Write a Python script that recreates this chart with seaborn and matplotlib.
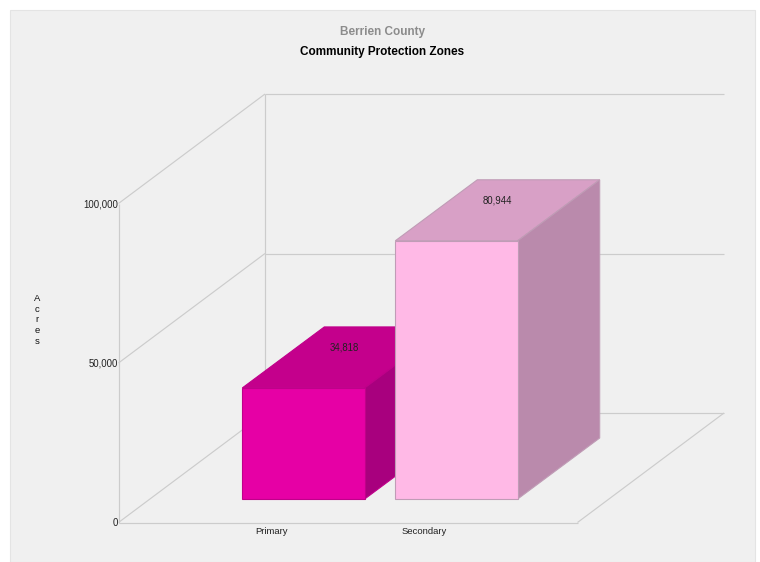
import matplotlib
matplotlib.use("Agg")
import matplotlib.pyplot as plt
import pandas as pd
import seaborn as sns
from matplotlib.patches import Polygon, Rectangle

# --- data ---
categories = ["Primary", "Secondary"]
acres = [34818, 80944]
value_labels = ["34,818", "80,944"]
y_ticks = [0, 50000, 100000]
y_tick_labels = ["0", "50,000", "100,000"]
front_colors = ["#E600A5", "#FFB9E6"]
top_colors = ["#C4008C", "#D8A0C6"]
side_colors = ["#A8007E", "#BA8AAC"]
edge_colors = ["#C0008A", "#C09CB6"]

sns.set_theme(style="white")
plt.rcParams["font.family"] = ["Liberation Sans", "DejaVu Sans"]

W, H = 760, 562
fig = plt.figure(figsize=(W / 100, H / 100), dpi=100, facecolor="white")
fig.patches.append(Rectangle((9.5 / W, 0), 745.5 / W, 552.5 / H, transform=fig.transFigure,
                             facecolor="#F0F0F0", edgecolor="#E4E4E4", lw=0.8, zorder=-5))


def px_axes(left, bottom_y, width, height):
    a = fig.add_axes([left / W, (H - bottom_y) / H, width / W, height / H])
    a.patch.set_visible(False)
    a.set_xlim(-1, 2)
    a.set_ylim(0, 100000)
    return a


AX_L, AX_B, AX_W, AX_H = 118.5, 522.5, 459, 319
unit_x = AX_W / 3            # pixels per category
unit_y = AX_H / 100000       # pixels per acre

# --- frame axes: walls, ticks, labels ---
ax = px_axes(AX_L, AX_B, AX_W, AX_H)
for s in ax.spines.values():
    s.set_visible(False)
wall_dx, wall_dy = 146.5 / unit_x, 109.5 / unit_y
grid = dict(color="#CCCCCC", lw=0.85, clip_on=False, solid_capstyle="butt")
ax.plot([-1, -1], [0, 100000], **grid)
ax.plot([-1 + wall_dx, -1 + wall_dx], [wall_dy, 100000 + wall_dy], **grid)
ax.plot([-1, 2], [0, 0], **grid)
for t in y_ticks:
    ax.plot([-1, -1 + wall_dx], [t, t + wall_dy], **grid)
    ax.plot([-1 + wall_dx, 2 + wall_dx], [t + wall_dy, t + wall_dy], **grid)
ax.plot([2, 2 + wall_dx], [0, wall_dy], **grid)

ax.set_xticks(range(len(categories)))
ax.set_xticklabels(categories, fontsize=6.8, color="#222222")
ax.set_yticks(y_ticks)
ax.set_yticklabels(y_tick_labels, fontsize=6.9, color="#222222")
ax.tick_params(axis="both", length=0, pad=0.5)
ax.tick_params(axis="x", pad=3.5)

fig.text(37 / W, (H - 320) / H, "A\nc\nr\ne\ns", ha="center", va="center",
         fontsize=6.8, color="#111111", linespacing=1.28)
fig.text(382 / W, (H - 32.5) / H, "Berrien County", ha="center", va="center",
         fontsize=8.5, fontweight="bold", color="#8C8C8C")
fig.text(382 / W, (H - 52.5) / H, "Community Protection Zones", ha="center", va="center",
         fontsize=8.5, fontweight="bold", color="#000000")

# --- bar axes: shifted along the depth direction onto the floor ---
bar = px_axes(AX_L + 32, AX_B - 23.5, AX_W, AX_H)
df = pd.DataFrame({"category": categories, "acres": acres})
sns.barplot(data=df, x="category", y="acres", hue="category", order=categories,
            hue_order=categories, palette=front_colors, width=0.8, legend=False,
            saturation=1, ax=bar)
bar.set_xlim(-1, 2)
bar.set_ylim(0, 100000)
bar.axis("off")

depth_x, depth_y = 82 / unit_x, 61 / unit_y
for i, patch in enumerate(bar.patches[:len(categories)]):
    x0, w, v = patch.get_x(), patch.get_width(), patch.get_height()
    x1 = x0 + w
    z = 3 + 2 * i
    patch.set_zorder(z + 1)
    patch.set_edgecolor(edge_colors[i])
    patch.set_linewidth(0.8)
    patch.set_clip_on(False)
    bar.add_patch(Polygon([(x0, v), (x1, v), (x1 + depth_x, v + depth_y), (x0 + depth_x, v + depth_y)],
                          closed=True, facecolor=top_colors[i], edgecolor=edge_colors[i],
                          lw=0.8, zorder=z, clip_on=False))
    bar.add_patch(Polygon([(x1, 0), (x1 + depth_x, depth_y), (x1 + depth_x, v + depth_y), (x1, v)],
                          closed=True, facecolor=side_colors[i], edgecolor=edge_colors[i],
                          lw=0.8, zorder=z, clip_on=False))
    bar.annotate(value_labels[i], (i + depth_x / 2, v + depth_y / 2), xytext=(0, 7),
                 textcoords="offset points", ha="center", va="center", fontsize=6.9,
                 color="#222222", zorder=20, annotation_clip=False)

fig.savefig("out.png", dpi=100, facecolor="white")
